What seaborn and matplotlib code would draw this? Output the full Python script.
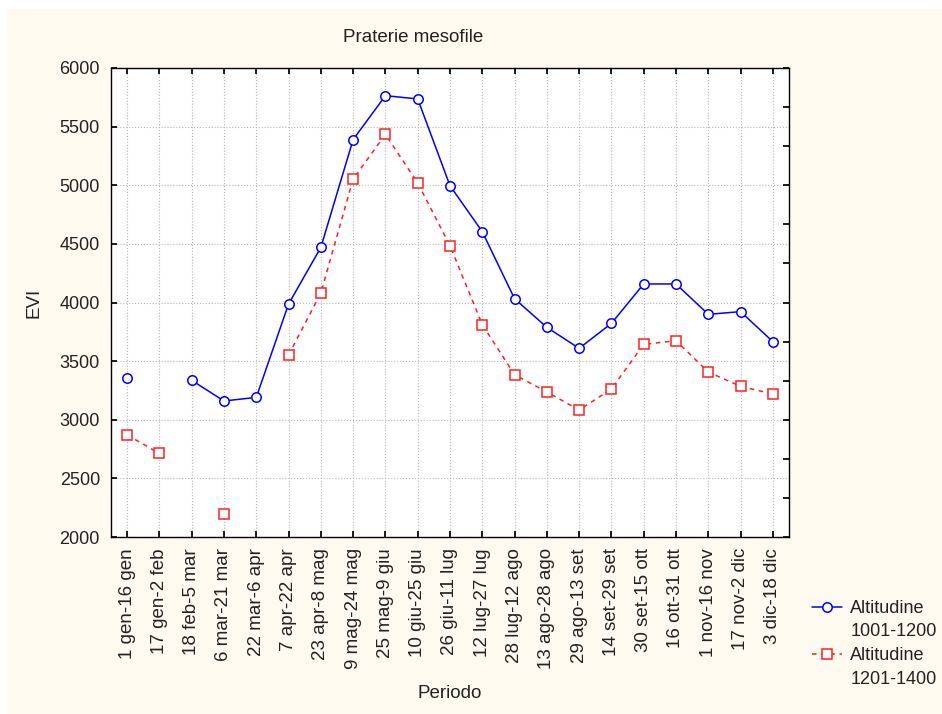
import numpy as np
import pandas as pd
import matplotlib
matplotlib.use("Agg")
import matplotlib.pyplot as plt
import seaborn as sns
from matplotlib.lines import Line2D
from matplotlib.patches import Rectangle

# dati (EVI per periodo)
periodi = ["1 gen-16 gen", "17 gen-2 feb", "18 feb-5 mar", "6 mar-21 mar",
           "22 mar-6 apr", "7 apr-22 apr", "23 apr-8 mag", "9 mag-24 mag",
           "25 mag-9 giu", "10 giu-25 giu", "26 giu-11 lug", "12 lug-27 lug",
           "28 lug-12 ago", "13 ago-28 ago", "29 ago-13 set", "14 set-29 set",
           "30 set-15 ott", "16 ott-31 ott", "1 nov-16 nov", "17 nov-2 dic",
           "3 dic-18 dic"]
alt_1001_1200 = [3360, np.nan, 3336, 3160, 3191, 3987, 4470, 5390, 5764, 5736,
                 4996, 4604, 4032, 3788, 3609, 3822, 4158, 4158, 3899, 3922, 3666]
alt_1201_1400 = [2870, 2713, np.nan, 2196, np.nan, 3552, 4081, 5053, 5434, 5019,
                 4484, 3811, 3384, 3237, 3083, 3262, 3643, 3674, 3407, 3285, 3220]
serie = ["Altitudine 1001-1200", "Altitudine 1201-1400"]
colori = {serie[0]: "#0000ff", serie[1]: "#ff2020"}
marcatori = {serie[0]: "o", serie[1]: "s"}
tratti = {serie[0]: "", serie[1]: (3, 3)}


def to_long(valori, nome):
    # segmenti separati dove manca il dato, cosi la linea si interrompe
    rows = []
    seg = 0
    for i, v in enumerate(valori):
        if np.isnan(v):
            seg += 1
            continue
        rows.append({"x": i, "EVI": v, "serie": nome, "seg": f"{nome}_{seg}"})
    return rows


df = pd.DataFrame(to_long(alt_1001_1200, serie[0]) + to_long(alt_1201_1400, serie[1]))

sns.set_theme(style="ticks")
plt.rcParams["font.family"] = ["Liberation Sans", "DejaVu Sans"]
plt.rcParams["font.size"] = 13

fig = plt.figure(figsize=(9.42, 7.14), dpi=100, facecolor="white")
fig.add_artist(Rectangle((7 / 942, 0), 1, 1 - 9 / 714, transform=fig.transFigure,
                         facecolor="#fffaf0", edgecolor="none", zorder=-1))
ax = fig.add_axes([111 / 942, 1 - 537 / 714, 678 / 942, 469 / 714])
ax.set_facecolor("white")

sns.lineplot(data=df, x="x", y="EVI", hue="serie", style="serie", units="seg",
             estimator=None, sort=False, palette=colori, markers=marcatori,
             dashes=tratti, markersize=6.8, linewidth=1.1, legend=False, ax=ax)
for line in ax.lines:
    line.set_markeredgecolor(line.get_color())
    line.set_markerfacecolor("white")
    line.set_markeredgewidth(1.1)

ax.set_xlim(-0.5, len(periodi) - 0.5)
ax.set_ylim(2000, 6000)
ax.set_xticks(range(len(periodi)))
ax.set_xticklabels(periodi, rotation=90, va="top", ha="center")
ax.set_yticks(np.arange(2000, 6001, 500))
ax.grid(True, linestyle=":", color="#b8b8b8", linewidth=0.8)
ax.set_axisbelow(True)
ax.tick_params(axis="x", direction="in", top=True, length=4, pad=8,
               labelsize=13.5, colors="black", labelcolor="#222222")
ax.tick_params(axis="y", direction="in", length=4, pad=8,
               labelsize=13, colors="black", labelcolor="#222222")
for s in ax.spines.values():
    s.set_color("black")
    s.set_linewidth(1.0)

# tacche a destra (scala Statistica)
ax2 = ax.twinx()
ax2.set_ylim(2000, 6000)
ax2.set_yticks(np.arange(2000, 6001, 1000 / 3))
ax2.set_yticklabels([])
ax2.tick_params(axis="y", direction="in", length=4, color="black")
for s in ax2.spines.values():
    s.set_visible(False)

ax.set_xlabel("Periodo", fontsize=13.5, va="center", color="#222222")
ax.xaxis.set_label_coords(0.5, -0.333)
ax.set_ylabel("EVI", fontsize=13.5, va="center", color="#222222")
ax.yaxis.set_label_coords(-0.114, 0.5)

fig.text(413 / 942, 1 - 37 / 714, "Praterie mesofile", ha="center", va="center",
         fontsize=13.5, color="#222222")

handles = []
labels = []
for nome in serie:
    handles.append(Line2D([], [], color=colori[nome], marker=marcatori[nome],
                          markersize=6.8, markerfacecolor="white",
                          markeredgecolor=colori[nome], markeredgewidth=1.1,
                          linestyle="-" if tratti[nome] == "" else (0, tratti[nome]),
                          linewidth=1.1))
    handles.append(Line2D([], [], color="none"))
    parola, quota = nome.split(" ")
    labels += [parola, quota]

fig.legend(handles, labels, loc="upper left", bbox_to_anchor=(812 / 942, 1 - 600 / 714),
           frameon=False, borderpad=0, borderaxespad=0, handlelength=1.67,
           handletextpad=0.45, labelspacing=0.36, fontsize=13, labelcolor="#222222")

fig.savefig("out.png", dpi=100, facecolor=fig.get_facecolor())
